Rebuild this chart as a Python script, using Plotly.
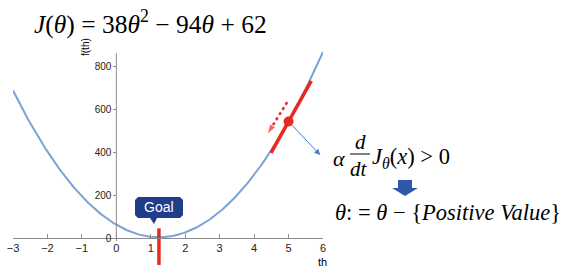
import numpy as np
import plotly.graph_objects as go

# ---- data ----
coeffs = [38, -94, 62]                 # J(theta) = a*t^2 + b*t + c
x_ticks = [-3, -2, -1, 0, 1, 2, 3, 4, 5, 6]
y_ticks = [0, 200, 400, 600, 800]
x_range = [-3, 6]
y_range = [-130, 870]
point_x = 5                             # current theta
tangent_x = [4.49, 5.66]                # extent of tangent segment
drift_x = [4.96, 4.38]                  # dotted arrow (direction of update)
drift_y = [632, 482]
normal_tip = [5.92, 386]                # thin blue arrow head
goal_y = [45, -125]                     # vertical red marker at minimum
y_line_bottom = -15
y_line_top = 860

a, b, c = coeffs
J = lambda t: a * t**2 + b * t + c
dJ = lambda t: 2 * a * t + b

theta = np.linspace(x_range[0], x_range[1], 300)
theta_min = -b / (2 * a)

# ---- layout geometry ----
W, H = 572, 271
ML, MR, MT, MB = 13, 249, 51, 5
PW, PH = W - ML - MR, H - MT - MB


def px(xp, yp):
    return (xp - ML) / PW, (H - MB - yp) / PH


RED = "#e8291f"
CURVE = "#7ba3d4"
NAVY = "#1f3d8a"
AXIS = "#8a8a8a"
SERIF = "Liberation Serif"

fig = go.Figure()

fig.add_trace(go.Scatter(x=theta, y=J(theta), mode="lines",
                         line=dict(color=CURVE, width=2), hoverinfo="skip"))

# tangent segment
tx = np.array(tangent_x)
fig.add_trace(go.Scatter(x=tx, y=J(point_x) + dJ(point_x) * (tx - point_x),
                         mode="lines", line=dict(color=RED, width=3.5)))
# current point
fig.add_trace(go.Scatter(x=[point_x], y=[J(point_x)], mode="markers",
                         marker=dict(color=RED, size=10)))
# dotted arrow
fig.add_trace(go.Scatter(x=drift_x, y=drift_y, mode="lines+markers",
                         line=dict(color=RED, width=2.5, dash="dot"),
                         marker=dict(symbol=["circle", "arrow"], size=[0, 11],
                                     color=RED, angleref="previous")))
# goal vertical line
fig.add_trace(go.Scatter(x=[theta_min, theta_min], y=goal_y, mode="lines",
                         line=dict(color=RED, width=3.5)))

shapes = []
# y-axis line
shapes.append(dict(type="line", xref="x", yref="y", x0=0, x1=0,
                   y0=y_line_bottom, y1=y_line_top,
                   line=dict(color=AXIS, width=1)))


def path_from(points, close=True):
    s = ""
    for i, (xp, yp) in enumerate(points):
        xx, yy = px(xp, yp)
        s += ("M" if i == 0 else "L") + f"{xx:.5f},{yy:.5f} "
    return s + ("Z" if close else "")


# Goal callout box (rounded corners approximated)
L, R, T, B, r = 135, 183, 197, 218, 3
box = [(L + r, T), (R - r, T), (R, T + r), (R, B - r), (R - r, B),
       (157, B), (154, 224), (150, B),
       (L + r, B), (L, B - r), (L, T + r)]
shapes.append(dict(type="path", xref="paper", yref="paper",
                   path=path_from(box), fillcolor=NAVY, line=dict(width=0)))

# block down arrow
arrow = [(398, 180), (412, 180), (412, 188), (418, 188), (405, 196),
         (392, 188), (398, 188)]
shapes.append(dict(type="path", xref="paper", yref="paper",
                   path=path_from(arrow), fillcolor="#2f58a8", line=dict(width=0)))

# fraction bar
fx0, fy0 = px(350, 154)
fx1, _ = px(370, 154)
shapes.append(dict(type="line", xref="paper", yref="paper", x0=fx0, x1=fx1,
                   y0=fy0, y1=fy0, line=dict(color="black", width=1)))

annotations = []


def text(xp, yp, s, size, xanchor="center", family=SERIF, color="black",
         angle=0):
    xx, yy = px(xp, yp)
    annotations.append(dict(xref="paper", yref="paper", x=xx, y=yy, text=s,
                            showarrow=False, xanchor=xanchor, yanchor="middle",
                            textangle=angle,
                            font=dict(family=family, size=size, color=color)))


text(32, 22, "<i>J</i>(<i>θ</i>) = 38<i>θ</i><sup>2</sup> − 94<i>θ</i> + 62",
     25.5, xanchor="left")
text(85, 47, "f(th)", 10, family="Liberation Sans", angle=-90)
text(322, 262, "th", 11, family="Liberation Sans")
text(159, 207, "Goal", 14, family="Liberation Sans", color="white")
text(339, 158, "<i>α</i>", 22)
text(360, 142, "<i>d</i>", 21)
text(359, 169, "<i>dt</i>", 21)
text(370, 158, "<i>J</i><sub><i>θ</i></sub>(<i>x</i>) > 0", 22.5, xanchor="left")
text(333, 212, "<i>θ</i>: = <i>θ</i> − {<i>Positive Value</i>}", 22.5,
     xanchor="left")

# thin blue arrow from the point outward
annotations.append(dict(xref="x", yref="y", axref="x", ayref="y",
                        x=normal_tip[0], y=normal_tip[1],
                        ax=point_x, ay=J(point_x), showarrow=True,
                        arrowhead=2, arrowsize=1.2, arrowwidth=1,
                        arrowcolor="#4a7cc0", text=""))

fig.update_layout(
    width=W, height=H,
    margin=dict(l=ML, r=MR, t=MT, b=MB),
    paper_bgcolor="white", plot_bgcolor="white",
    showlegend=False,
    shapes=shapes, annotations=annotations,
    xaxis=dict(range=x_range, tickvals=x_ticks,
               ticktext=[str(v).replace("-", "−") if v < 0 else str(v) for v in x_ticks],
               showgrid=False, zeroline=False,
               showline=True, linecolor=AXIS, linewidth=1,
               ticks="inside", ticklen=4, tickcolor=AXIS,
               anchor="free",
               position=(0 - y_range[0]) / (y_range[1] - y_range[0]),
               tickfont=dict(family="Liberation Sans", size=11, color="#222")),
    yaxis=dict(range=y_range, tickvals=y_ticks,
               showgrid=False, zeroline=False, showline=False,
               ticks="outside", ticklen=3, tickcolor=AXIS,
               anchor="free",
               position=(0 - x_range[0]) / (x_range[1] - x_range[0]),
               tickfont=dict(family="Liberation Sans", size=10, color="#222")),
)

fig.write_html("out.html")
